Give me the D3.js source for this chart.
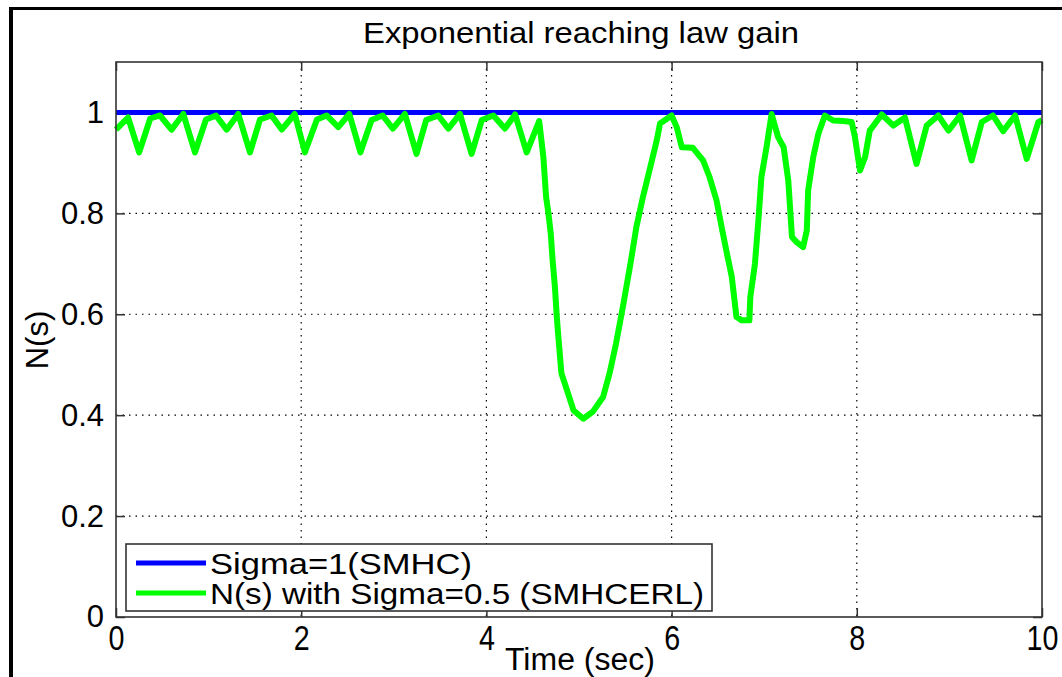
<!DOCTYPE html>
<html>
<head>
<meta charset="utf-8">
<script src="https://cdn.jsdelivr.net/npm/d3@7"></script>
<style>
  html, body { margin: 0; padding: 0; background: #fff; }
  svg { display: block; }
  text { font-family: "Liberation Sans", Arial, Helvetica, sans-serif; fill: #000; }
</style>
</head>
<body>
<svg id="chart" width="1062" height="677"></svg>
<script>
// Time axis samples (s) and the sliding-mode gain N(s) with Sigma = 0.5
const timeSec = [0, 0.13, 0.25, 0.37, 0.475, 0.60, 0.727, 0.853, 0.972, 1.08, 1.195, 1.32, 1.447, 1.555, 1.68, 1.79, 1.93, 2.04, 2.17, 2.275, 2.40, 2.52, 2.64, 2.76, 2.88, 2.99, 3.12, 3.245, 3.35, 3.48, 3.59, 3.715, 3.84, 3.95, 4.075, 4.20, 4.31, 4.435, 4.57, 4.615, 4.645, 4.67, 4.695, 4.715, 4.74, 4.76, 4.78, 4.81, 4.87, 4.94, 5.046, 5.15, 5.26, 5.33, 5.40, 5.48, 5.55, 5.62, 5.69, 5.77, 5.84, 5.875, 6.0, 6.055, 6.11, 6.23, 6.34, 6.41, 6.485, 6.54, 6.59, 6.65, 6.70, 6.755, 6.84, 6.85, 6.90, 6.94, 6.97, 7.025, 7.08, 7.15, 7.21, 7.26, 7.30, 7.35, 7.42, 7.46, 7.475, 7.53, 7.585, 7.655, 7.745, 7.855, 7.945, 7.98, 8.035, 8.09, 8.14, 8.27, 8.395, 8.52, 8.645, 8.755, 8.88, 8.99, 9.115, 9.24, 9.35, 9.47, 9.58, 9.71, 9.835, 9.96, 10.0];
const gainSMHCERL = [0.966, 0.99, 0.921, 0.988, 0.994, 0.966, 0.997, 0.921, 0.986, 0.994, 0.966, 0.997, 0.921, 0.986, 0.994, 0.966, 0.997, 0.921, 0.986, 0.994, 0.971, 0.997, 0.921, 0.985, 0.994, 0.968, 0.997, 0.918, 0.985, 0.994, 0.968, 0.997, 0.918, 0.985, 0.994, 0.968, 0.996, 0.921, 0.983, 0.912, 0.832, 0.80, 0.76, 0.707, 0.654, 0.595, 0.549, 0.483, 0.45, 0.41, 0.393, 0.407, 0.436, 0.483, 0.542, 0.621, 0.694, 0.773, 0.832, 0.892, 0.945, 0.978, 0.994, 0.971, 0.931, 0.93, 0.905, 0.872, 0.826, 0.773, 0.727, 0.674, 0.595, 0.588, 0.588, 0.634, 0.70, 0.793, 0.872, 0.931, 0.997, 0.951, 0.931, 0.865, 0.753, 0.743, 0.733, 0.766, 0.846, 0.912, 0.958, 0.994, 0.984, 0.983, 0.981, 0.951, 0.885, 0.912, 0.964, 0.996, 0.974, 0.99, 0.898, 0.974, 0.994, 0.964, 0.994, 0.905, 0.981, 0.994, 0.963, 0.994, 0.908, 0.981, 0.985];
// Constant gain for the plain SMHC controller
const smhcTime = [0, 10];
const gainSMHC = [1, 1];

const xTicks = [0, 2, 4, 6, 8, 10];
const yTicks = [0, 0.2, 0.4, 0.6, 0.8, 1];
const yTickLabels = ["0", "0.2", "0.4", "0.6", "0.8", "1"];
const legendLabels = ["Sigma=1(SMHC)", "N(s) with Sigma=0.5 (SMHCERL)"];
const seriesColors = ["#0000ff", "#00ff00"];

const svg = d3.select("#chart");

// Figure frame (left and top edges)
svg.append("line").attr("x1", 11).attr("x2", 11).attr("y1", 7).attr("y2", 677)
  .attr("stroke", "#000").attr("stroke-width", 4);
svg.append("line").attr("x1", 9).attr("x2", 1062).attr("y1", 8.5).attr("y2", 8.5)
  .attr("stroke", "#000").attr("stroke-width", 3);

const plot = { left: 116, top: 62, right: 1042, bottom: 617 };
const x = d3.scaleLinear().domain([0, 10]).range([plot.left, plot.right]);
const y = d3.scaleLinear().domain([0, 1.1]).range([plot.bottom, plot.top]);

// Dotted grid
const grid = svg.append("g").attr("stroke", "#000").attr("stroke-width", 1.2)
  .attr("stroke-dasharray", "1.5,5");
grid.selectAll("line.gx").data(xTicks.filter(d => d > 0 && d < 10)).join("line")
  .attr("x1", d => x(d)).attr("x2", d => x(d)).attr("y1", plot.top).attr("y2", plot.bottom);
grid.selectAll("line.gy").data(yTicks.filter(d => d > 0)).join("line")
  .attr("y1", d => y(d)).attr("y2", d => y(d)).attr("x1", plot.left).attr("x2", plot.right);

// Axes with inward ticks
const tickLen = 9;
const xAxis = d3.axisBottom(x).tickValues(xTicks).tickFormat(d3.format("d"))
  .tickSizeInner(-tickLen).tickSizeOuter(0).tickPadding(4);
const gx = svg.append("g").attr("transform", `translate(0,${plot.bottom})`).call(xAxis);
gx.select(".domain").remove();
gx.selectAll(".tick line").attr("stroke", "#333").attr("stroke-width", 1.5);
// condensed numerals, centred on each tick
gx.selectAll(".tick text").attr("font-size", 35).attr("fill", "#000")
  .attr("font-family", "'Liberation Sans', Arial, sans-serif")
  .attr("dy", null).attr("y", 33).attr("x", 0)
  .attr("transform", "scale(0.82,1)");

const yAxis = d3.axisLeft(y).tickValues(yTicks).tickFormat((d, i) => yTickLabels[i])
  .tickSizeInner(-tickLen).tickSizeOuter(0).tickPadding(12);
const gy = svg.append("g").attr("transform", `translate(${plot.left},0)`).call(yAxis);
gy.select(".domain").remove();
gy.selectAll(".tick line").attr("stroke", "#333").attr("stroke-width", 1.5);
gy.selectAll(".tick text").attr("font-size", 31).attr("fill", "#000")
  .attr("font-family", "'Liberation Sans', Arial, sans-serif");

// Mirrored ticks on top and right
const gxTop = svg.append("g").attr("transform", `translate(0,${plot.top})`)
  .call(d3.axisTop(x).tickValues(xTicks).tickSizeInner(-tickLen).tickSizeOuter(0).tickFormat(""));
gxTop.select(".domain").remove();
gxTop.selectAll(".tick line").attr("stroke", "#333").attr("stroke-width", 1.5);
const gyRight = svg.append("g").attr("transform", `translate(${plot.right},0)`)
  .call(d3.axisRight(y).tickValues(yTicks).tickSizeInner(-tickLen).tickSizeOuter(0).tickFormat(""));
gyRight.select(".domain").remove();
gyRight.selectAll(".tick line").attr("stroke", "#333").attr("stroke-width", 1.5);

// Series
const line = d3.line().x(d => x(d[0])).y(d => y(d[1]));
svg.append("path").datum(smhcTime.map((t, i) => [t, gainSMHC[i]]))
  .attr("d", line).attr("fill", "none").attr("stroke", seriesColors[0])
  .attr("stroke-width", 5);
svg.append("path").datum(timeSec.map((t, i) => [t, gainSMHCERL[i]]))
  .attr("d", line).attr("fill", "none").attr("stroke", seriesColors[1])
  .attr("stroke-width", 6).attr("stroke-linejoin", "round");

// Axes box
svg.append("rect").attr("x", plot.left).attr("y", plot.top)
  .attr("width", plot.right - plot.left).attr("height", plot.bottom - plot.top)
  .attr("fill", "none").attr("stroke", "#333").attr("stroke-width", 1.6);

// Title and axis labels
svg.append("text").attr("x", 581).attr("y", 43)
  .attr("text-anchor", "middle").attr("font-size", 29)
  .attr("textLength", 436).attr("lengthAdjust", "spacingAndGlyphs")
  .text("Exponential reaching law gain");
svg.append("text").attr("x", 580).attr("y", 670)
  .attr("text-anchor", "middle").attr("font-size", 31)
  .attr("textLength", 150).attr("lengthAdjust", "spacingAndGlyphs")
  .text("Time (sec)");
svg.append("text").attr("transform", `translate(48,340) rotate(-90)`)
  .attr("text-anchor", "middle").attr("font-size", 31).text("N(s)");

// Legend
const lg = svg.append("g").attr("transform", "translate(126,544)");
lg.append("rect").attr("width", 586).attr("height", 67).attr("fill", "#fff")
  .attr("stroke", "#333").attr("stroke-width", 1.6);
const legendWidths = [262, 494];
legendLabels.forEach((lab, i) => {
  const cy = 19 + i * 30;
  lg.append("line").attr("x1", 10).attr("x2", 80).attr("y1", cy).attr("y2", cy)
    .attr("stroke", seriesColors[i]).attr("stroke-width", 5);
  lg.append("text").attr("x", 84).attr("y", cy + 11).attr("font-size", 30)
    .attr("textLength", legendWidths[i]).attr("lengthAdjust", "spacingAndGlyphs")
    .text(lab);
});
</script>
</body>
</html>
